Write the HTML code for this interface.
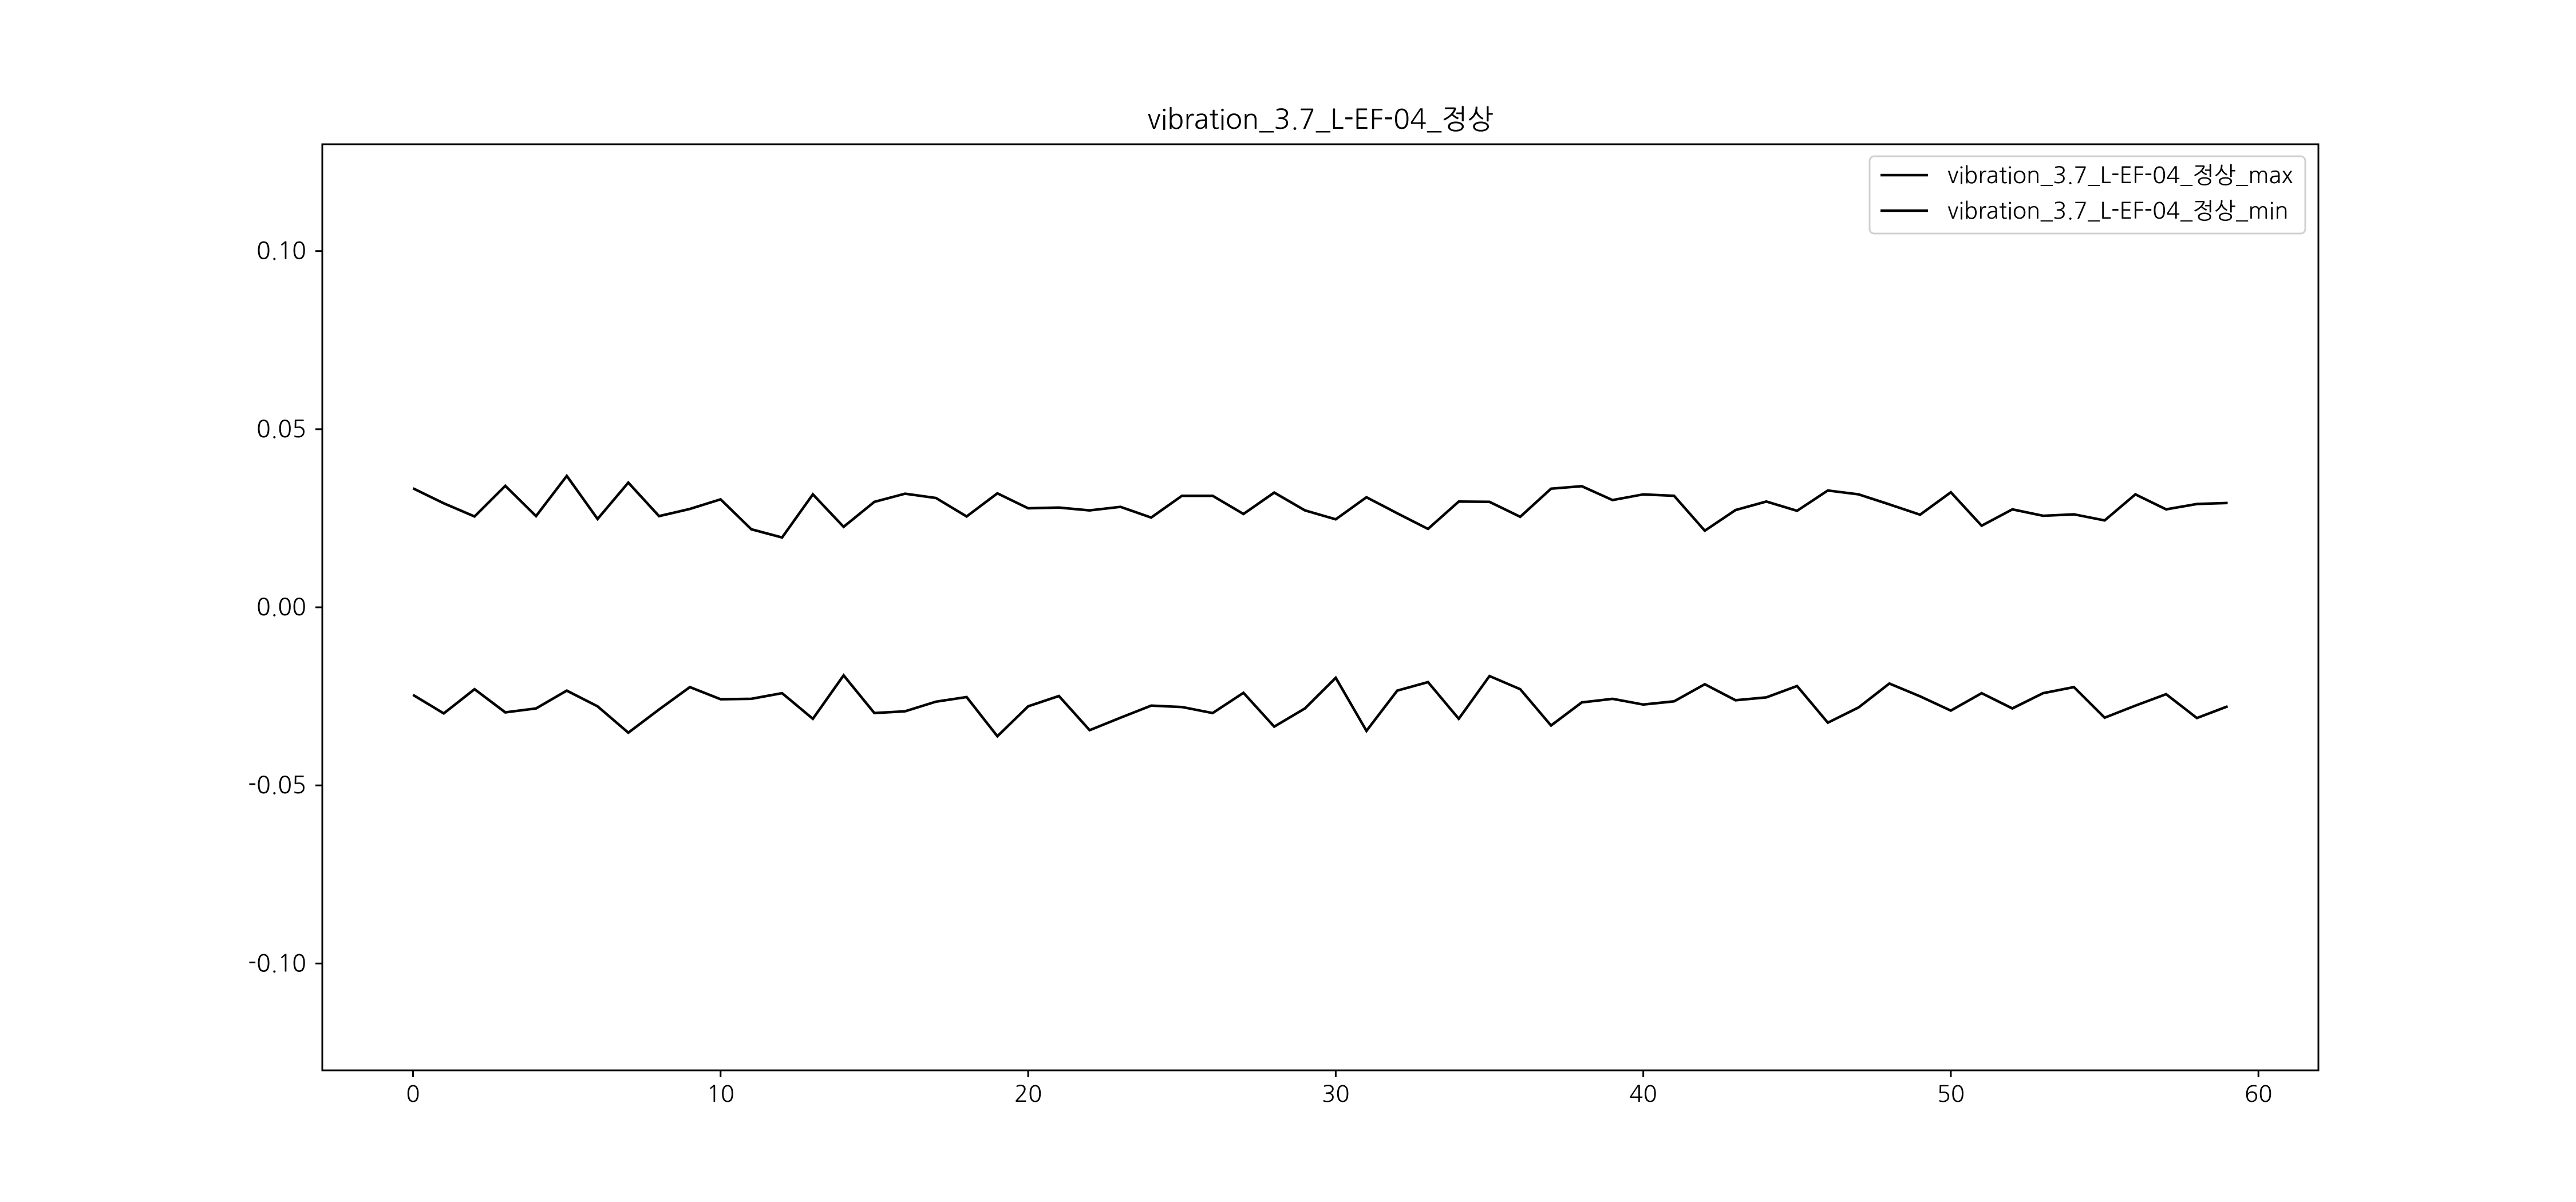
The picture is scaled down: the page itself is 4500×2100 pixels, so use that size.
<!DOCTYPE html>
<html><head><meta charset="utf-8">
<style>
html,body{margin:0;padding:0;background:#fff;}
svg{display:block;}
text{font-family:"NanumGothic","Liberation Sans","Noto Sans CJK KR",sans-serif;fill:#000;}
</style></head>
<body>
<svg id="chart" width="4500" height="2100" viewBox="0 0 4500 2100" xmlns="http://www.w3.org/2000/svg"></svg>
<script>
const xTicks = [0,10,20,30,40,50,60];
const yTicks = [-0.10,-0.05,0.00,0.05,0.10];
const yTickLabels = ["-0.10","-0.05","0.00","0.05","0.10"];
const seriesNames = ["vibration_3.7_L-EF-04_정상_max","vibration_3.7_L-EF-04_정상_min"];
const maxValues = [0.0334,0.0292,0.0255,0.0341,0.0256,0.0369,0.0248,0.0350,0.0256,0.0276,0.0303,0.0219,0.0196,0.0317,0.0226,0.0296,0.0319,0.0307,0.0255,0.0320,0.0278,0.0280,0.0272,0.0282,0.0252,0.0313,0.0313,0.0262,0.0322,0.0272,0.0247,0.0309,0.0264,0.0220,0.0297,0.0296,0.0254,0.0333,0.0340,0.0301,0.0317,0.0313,0.0215,0.0273,0.0297,0.0271,0.0328,0.0317,0.0289,0.0260,0.0323,0.0229,0.0275,0.0257,0.0261,0.0244,0.0317,0.0275,0.0290,0.0293];
const minValues = [-0.0246,-0.0298,-0.0230,-0.0295,-0.0284,-0.0234,-0.0278,-0.0352,-0.0287,-0.0224,-0.0258,-0.0257,-0.0241,-0.0313,-0.0191,-0.0297,-0.0292,-0.0265,-0.0252,-0.0362,-0.0278,-0.0249,-0.0345,-0.0310,-0.0276,-0.0280,-0.0297,-0.0240,-0.0335,-0.0284,-0.0198,-0.0347,-0.0234,-0.0210,-0.0313,-0.0193,-0.0230,-0.0332,-0.0267,-0.0257,-0.0273,-0.0264,-0.0216,-0.0261,-0.0253,-0.0221,-0.0324,-0.0281,-0.0214,-0.0250,-0.0290,-0.0241,-0.0284,-0.0241,-0.0224,-0.0310,-0.0276,-0.0244,-0.0311,-0.0278];

const svg = document.getElementById('chart');
const NS = 'http://www.w3.org/2000/svg';
const L=563, R=4050, T=252, B=1870;
const xMin=-2.95, xMax=61.95, yMin=-0.13, yMax=0.13;
function xs(v){return L+(v-xMin)/(xMax-xMin)*(R-L);}
function ys(v){return B-(v-yMin)/(yMax-yMin)*(B-T);}
function mk(tag, attrs){const e=document.createElementNS(NS,tag);for(const k in attrs)e.setAttribute(k,attrs[k]);svg.appendChild(e);return e;}

const title = mk('text',{x:(L+R)/2,y:225,'text-anchor':'middle','font-size':48});
title.textContent='vibration_3.7_L-EF-04_정상';



[maxValues,minValues].forEach((vals,si)=>{
  const d = vals.map((v,i)=>(i?'L':'M')+xs(i).toFixed(1)+' '+ys(v).toFixed(1)).join(' ');
  const p = mk('path',{d:d,fill:'none',stroke:'#000','stroke-width':4.5,'stroke-linejoin':'miter'});
  
  
});

const frame = mk('rect',{x:L,y:T,width:R-L,height:B-T,fill:'none',stroke:'#000','stroke-width':3});



xTicks.forEach(t=>{
  const x=xs(t);
  const tk = mk('line',{x1:x,y1:B,x2:x,y2:B+12,stroke:'#000','stroke-width':3});
  
  
  const lb = mk('text',{x:x,y:B+55,'text-anchor':'middle','font-size':40});
  lb.textContent=String(t);
  
  
});
yTicks.forEach((t,i)=>{
  const y=ys(t);
  const tk = mk('line',{x1:L-12,y1:y,x2:L,y2:y,stroke:'#000','stroke-width':3});
  
  
  const lb = mk('text',{x:L-28,y:y+14,'text-anchor':'end','font-size':41});
  lb.textContent=yTickLabels[i];
  
  
});

const lg = mk('rect',{x:3266,y:273,width:761,height:135,rx:8,fill:'#fff',stroke:'#d0d0d0','stroke-width':3});


seriesNames.forEach((n,i)=>{
  const y = 306+i*62;
  const ln = mk('line',{x1:3285,y1:y,x2:3368,y2:y,stroke:'#000','stroke-width':4.5});
  
  
  const tx = mk('text',{x:3402,y:y+14,'font-size':40});
  tx.textContent=n;
  
  
});
</script>
</body></html>
